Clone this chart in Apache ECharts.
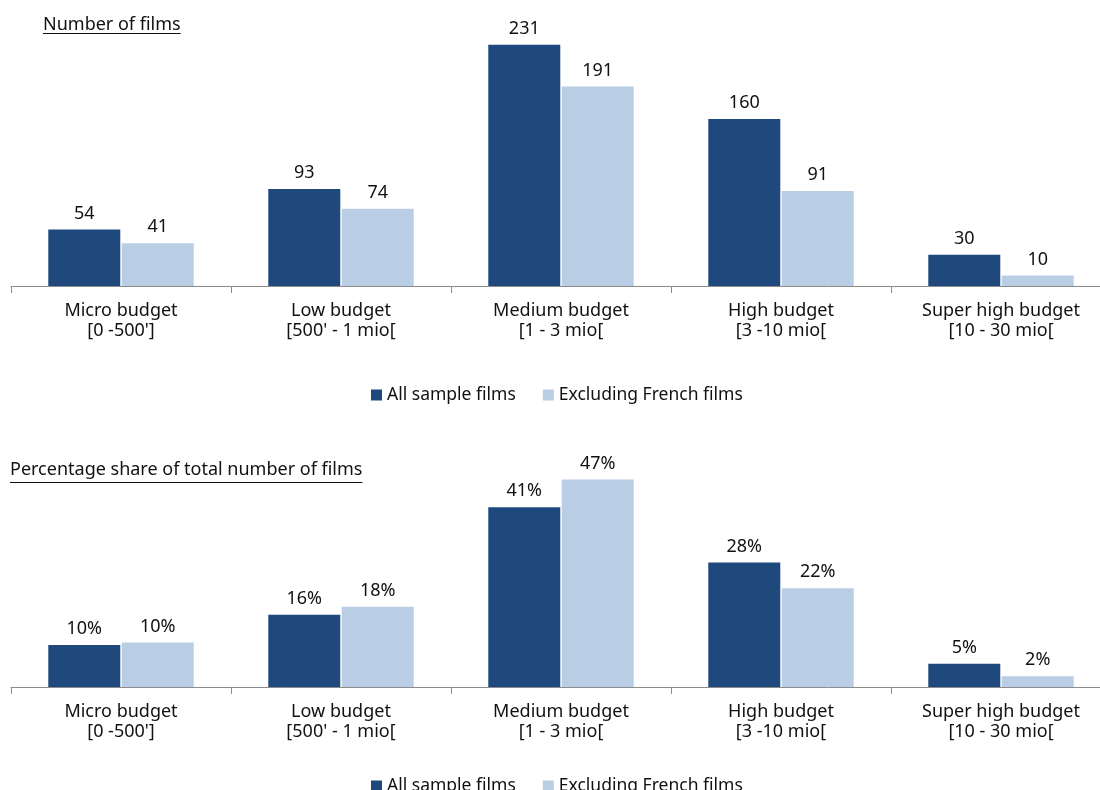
<!DOCTYPE html>
<html>
<head>
<meta charset="utf-8">
<script src="https://cdn.jsdelivr.net/npm/echarts@6/dist/echarts.min.js"></script>
<style>
    html, body { margin: 0; padding: 0; background: #fff; }
    #chart { width: 1100px; height: 790px; }
</style>
</head>
<body>
<div id="chart"></div>
<script>
// budget categories
var categories = [
    "Micro budget\n[0 -500']",
    "Low budget\n[500' - 1 mio[",
    "Medium budget\n[1 - 3 mio[",
    "High budget\n[3 -10 mio[",
    "Super high budget\n[10 - 30 mio["
]
var seriesNames = ['All sample films', 'Excluding French films']

// number of films
var filmsAll = [54, 93, 231, 160, 30]
var filmsExclFr = [41, 74, 191, 91, 10]

// percentage share of total (%)
var shareAll = [9.51, 16.37, 40.67, 28.17, 5.28]
var shareExclFr = [10.07, 18.18, 46.93, 22.36, 2.46]

var titles = ['Number of films', 'Percentage share of total number of films']

var FONT = '"Noto Sans", "Open Sans", sans-serif'
var darkBlue = '#1f497d'
var lightBlue = '#b9cde5'

function textWidth(txt, size){
    var c = document.createElement('canvas').getContext('2d')
    c.font = size + 'px ' + FONT
    return c.measureText(txt).width
}

var chart = echarts.init(document.getElementById('chart'))

function xAxisCfg(gridIndex){
    return {
        type: 'category',
        gridIndex: gridIndex,
        data: categories,
        axisLine: { lineStyle: { color: '#8c8c8c', width: 1 } },
        axisTick: { show: true, length: 7, lineStyle: { color: '#8c8c8c' } },
        axisLabel: {
            color: '#111',
            fontFamily: FONT,
            fontSize: 18,
            lineHeight: 20,
            margin: 15,
            interval: 0
        }
    }
}

function yAxisCfg(gridIndex, max){
    return {
        type: 'value',
        gridIndex: gridIndex,
        min: 0,
        max: max,
        show: false,
        splitLine: { show: false }
    }
}

function barSeries(name, data, color, idx, pct){
    return {
        name: name,
        type: 'bar',
        xAxisIndex: idx,
        yAxisIndex: idx,
        data: data,
        barWidth: 72,
        barGap: '2%',
        itemStyle: { color: color },
        label: {
            show: true,
            position: 'top',
            distance: 7,
            color: '#111',
            fontFamily: FONT,
            fontSize: 18,
            formatter: function(p){
                return pct ? Math.round(p.value) + '%' : p.value
            }
        }
    }
}

var t1w = textWidth(titles[0], 18)
var t2w = textWidth(titles[1], 18)

var legendText = { fontFamily: FONT, fontSize: 17.5, color: '#111' }

chart.setOption({
    animation: false,
    color: [darkBlue, lightBlue],
    title: [
        { text: titles[0], left: 43, top: 16, padding: 0,
          textStyle: { fontFamily: FONT, fontSize: 18, fontWeight: 'normal', color: '#111' } },
        { text: titles[1], left: 10, top: 461, padding: 0,
          textStyle: { fontFamily: FONT, fontSize: 18, fontWeight: 'normal', color: '#111' } }
    ],
    graphic: [
        { type: 'line', shape: { x1: 43, y1: 33.5, x2: 43 + t1w, y2: 33.5 }, style: { stroke: '#111', lineWidth: 1 } },
        { type: 'line', shape: { x1: 10, y1: 482.5, x2: 10 + t2w, y2: 482.5 }, style: { stroke: '#111', lineWidth: 1 } }
    ],
    legend: [
        {
            data: seriesNames, left: 366, top: 381,
            icon: 'rect', itemWidth: 11, itemHeight: 11, itemGap: 27,
            textStyle: legendText
        },
        {
            data: seriesNames, left: 366, top: 772,
            icon: 'rect', itemWidth: 11, itemHeight: 11, itemGap: 27,
            textStyle: legendText
        }
    ],
    grid: [
        { left: 11, width: 1100, top: 25, height: 261, outerBoundsMode: 'none' },
        { left: 11, width: 1100, top: 466, height: 221, outerBoundsMode: 'none' }
    ],
    xAxis: [xAxisCfg(0), xAxisCfg(1)],
    yAxis: [yAxisCfg(0, 250), yAxisCfg(1, 50)],
    series: [
        barSeries(seriesNames[0], filmsAll, darkBlue, 0, false),
        barSeries(seriesNames[1], filmsExclFr, lightBlue, 0, false),
        barSeries(seriesNames[0], shareAll, darkBlue, 1, true),
        barSeries(seriesNames[1], shareExclFr, lightBlue, 1, true)
    ]
})
</script>
</body>
</html>
